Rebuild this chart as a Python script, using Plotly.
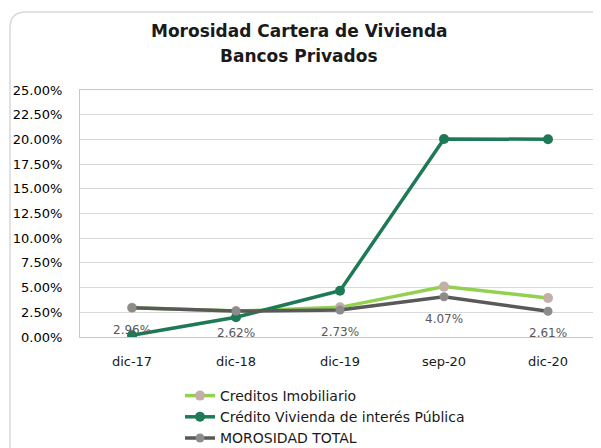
import plotly.graph_objects as go

categories = ["dic-17", "dic-18", "dic-19", "sep-20", "dic-20"]
creditos_imobiliario = [0.0296, 0.0262, 0.0300, 0.0510, 0.0395]
credito_vivienda = [0.0018, 0.0200, 0.0468, 0.2004, 0.2002]
morosidad_total = [0.0296, 0.0262, 0.0273, 0.0407, 0.0261]
morosidad_labels = ["2.96%", "2.62%", "2.73%", "4.07%", "2.61%"]
y_ticks = [i * 0.025 for i in range(11)]

FONT = "DejaVu Sans"

fig = go.Figure()
fig.add_trace(go.Scatter(
    x=categories, y=creditos_imobiliario, name="Creditos Imobiliario",
    mode="lines+markers", legendgroup="a",
    line=dict(color="#92D050", width=3.5),
    marker=dict(color="#C4AFA8", size=10),
))
fig.add_trace(go.Scatter(
    x=categories, y=credito_vivienda, name="Crédito Vivienda de interés Pública",
    mode="lines+markers", legendgroup="b",
    line=dict(color="#1E7A56", width=3.5),
    marker=dict(color="#1E7A56", size=10),
))
fig.add_trace(go.Scatter(
    x=categories, y=morosidad_total, name="MOROSIDAD TOTAL",
    mode="lines+markers", legendgroup="c",
    line=dict(color="#595959", width=3.5),
    marker=dict(color="#8C8C8C", size=9),
))

for c, v, t in zip(categories, morosidad_total, morosidad_labels):
    fig.add_annotation(x=c, y=v, text=t, showarrow=False, yshift=-22,
                       font=dict(family=FONT, size=12, color="#595959"))

# page has an 8px body margin; work in page pixels and convert
OFF = 8
W, H = 601 - OFF, 448 - OFF
ml, mr, mt, mb = 80 - OFF, 1, 90 - OFF, 111
pw, ph = W - ml - mr, H - mt - mb
def px(x):
    return (x - OFF - ml) / pw
def py(y):
    return (H - mb - (y - OFF)) / ph

# title lines
fig.add_annotation(xref="paper", yref="paper", x=px(299), y=py(31),
                   text="<b>Morosidad Cartera de Vivienda</b>", showarrow=False,
                   xanchor="center", yanchor="middle",
                   font=dict(family=FONT, size=17, color="#1a1a1a"))
fig.add_annotation(xref="paper", yref="paper", x=px(299), y=py(56),
                   text="<b>Bancos Privados</b>", showarrow=False,
                   xanchor="center", yanchor="middle",
                   font=dict(family=FONT, size=17, color="#1a1a1a"))

# outer rounded chart border
r = 16
path = (f"M {px(10)},{py(520)} L {px(10)},{py(12 + r)} "
        f"Q {px(10)},{py(12)} {px(10 + r)},{py(12)} L {px(650)},{py(12)}")
fig.add_shape(type="path", xref="paper", yref="paper", path=path,
              line=dict(color="#D9D9D9", width=1.5), layer="below")

fig.update_layout(
    width=W, height=H,
    margin=dict(l=ml, r=mr, t=mt, b=mb, autoexpand=False),
    paper_bgcolor="white", plot_bgcolor="white",
    font=dict(family=FONT, color="#1a1a1a"),
    showlegend=True,
    legend=dict(x=px(180), y=py(380), xanchor="left", yanchor="top",
                orientation="v", font=dict(family=FONT, size=14, color="#1a1a1a"),
                itemwidth=30, tracegroupgap=0, bgcolor="rgba(0,0,0,0)"),
    xaxis=dict(type="category", range=[-0.5, 4.5], showgrid=False, zeroline=False,
               showline=True, mirror=True, linecolor="#D8C2BE", linewidth=1,
               ticks="", tickfont=dict(family=FONT, size=13, color="#1a1a1a"),
               ticklabelstandoff=12),
    yaxis=dict(range=[0, 0.25], tickvals=y_ticks, tickformat=".2%",
               showgrid=True, gridcolor="#D9D9D9", gridwidth=1, zeroline=False,
               showline=True, mirror=True, linecolor="#D8C2BE", linewidth=1,
               ticks="", tickfont=dict(family=FONT, size=13, color="#000000"),
               ticklabelstandoff=14),
)

fig.write_html("out.html")
